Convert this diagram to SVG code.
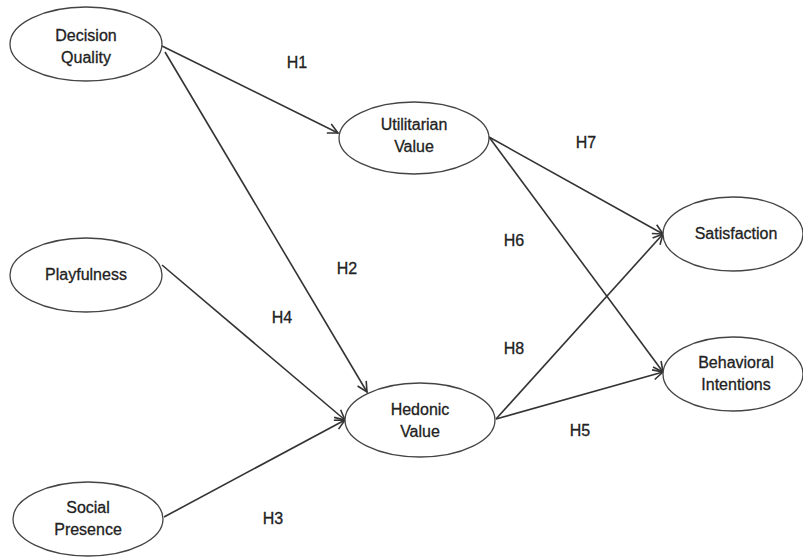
<svg xmlns="http://www.w3.org/2000/svg" width="803" height="559" viewBox="0 0 803 559">
<style>
.node ellipse{fill:#fff;stroke:#444;stroke-width:1.3}
text{font-family:"Liberation Sans",Arial,sans-serif;font-size:16px;fill:#222;stroke:#222;stroke-width:0.3;text-anchor:middle}
.edges line{stroke:#333;stroke-width:1.6;fill:none}
</style>
<defs>
<marker id="arr" markerUnits="userSpaceOnUse" markerWidth="14" markerHeight="14" viewBox="0 0 14 14" refX="12" refY="7" orient="auto">
<path d="M2,2 L12,7 L2,12" fill="none" stroke="#333" stroke-width="1.6"/>
</marker>
</defs>
<rect width="803" height="559" fill="#fff"/>
<g class="edges">
<line x1="162" y1="46" x2="338" y2="133" marker-end="url(#arr)"/>
<line x1="165" y1="52" x2="367" y2="392" marker-end="url(#arr)"/>
<line x1="162" y1="265" x2="345" y2="420" marker-end="url(#arr)"/>
<line x1="164" y1="517" x2="345" y2="420" marker-end="url(#arr)"/>
<line x1="489" y1="137" x2="663" y2="234" marker-end="url(#arr)"/>
<line x1="489" y1="137" x2="663" y2="372" marker-end="url(#arr)"/>
<line x1="496" y1="419" x2="663" y2="234" marker-end="url(#arr)"/>
<line x1="496" y1="419" x2="663" y2="372" marker-end="url(#arr)"/>
</g>
<g id="labels">
<text x="297" y="68">H1</text>
<text x="347" y="274">H2</text>
<text x="273" y="524">H3</text>
<text x="282" y="323">H4</text>
<text x="580" y="436">H5</text>
<text x="514" y="246">H6</text>
<text x="586" y="148">H7</text>
<text x="514" y="354">H8</text>
</g>
<g id="decision-quality" class="node">
<ellipse cx="86" cy="44" rx="76" ry="37"/>
<text x="86" y="41">Decision</text>
<text x="86" y="63">Quality</text>
</g>
<g id="playfulness" class="node">
<ellipse cx="86" cy="275" rx="76" ry="37"/>
<text x="86" y="280">Playfulness</text>
</g>
<g id="social-presence" class="node">
<ellipse cx="88" cy="519" rx="75" ry="37"/>
<text x="88" y="513">Social</text>
<text x="88" y="535">Presence</text>
</g>
<g id="utilitarian-value" class="node">
<ellipse cx="414" cy="138" rx="75" ry="36"/>
<text x="414" y="130">Utilitarian</text>
<text x="414" y="152">Value</text>
</g>
<g id="hedonic-value" class="node">
<ellipse cx="420" cy="420" rx="75" ry="37"/>
<text x="420" y="415">Hedonic</text>
<text x="420" y="437">Value</text>
</g>
<g id="satisfaction" class="node">
<ellipse cx="733" cy="234" rx="70" ry="37"/>
<text x="736" y="239">Satisfaction</text>
</g>
<g id="behavioral-intentions" class="node">
<ellipse cx="733" cy="374" rx="70" ry="37"/>
<text x="736" y="368">Behavioral</text>
<text x="736" y="390">Intentions</text>
</g>
</svg>
